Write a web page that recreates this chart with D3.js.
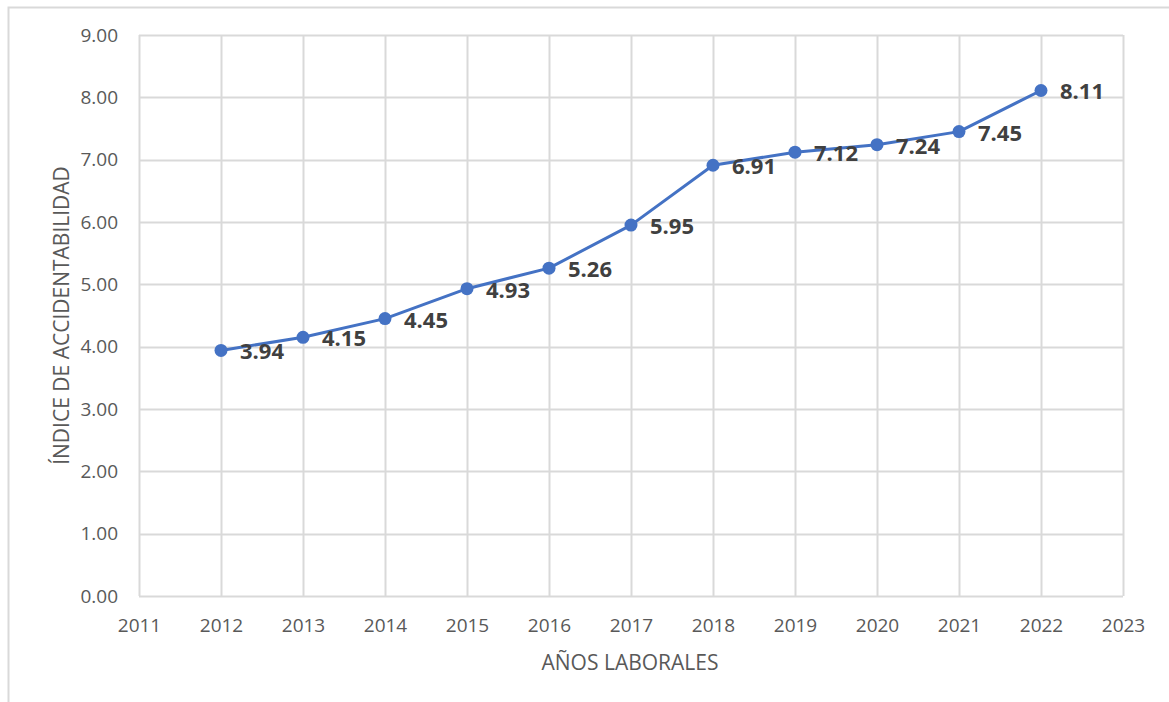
<!DOCTYPE html>
<html>
<head>
<meta charset="utf-8">
<script src="https://cdn.jsdelivr.net/npm/d3@7"></script>
<style>
  html, body { margin: 0; padding: 0; background: #fff; }
  svg { display: block; }
</style>
</head>
<body>
<svg id="chart" width="1169" height="702"></svg>
<script>
// Índice de accidentabilidad por año laboral
const years = [2012, 2013, 2014, 2015, 2016, 2017, 2018, 2019, 2020, 2021, 2022];
const indexValues = [3.94, 4.15, 4.45, 4.93, 5.26, 5.95, 6.91, 7.12, 7.24, 7.45, 8.11];
const xTicks = [2011, 2012, 2013, 2014, 2015, 2016, 2017, 2018, 2019, 2020, 2021, 2022, 2023];
const yTicks = [0, 1, 2, 3, 4, 5, 6, 7, 8, 9];
const xTitle = "AÑOS LABORALES";
const yTitle = "ÍNDICE DE ACCIDENTABILIDAD";

const svg = d3.select("#chart");
const font = "'Open Sans', 'Noto Sans', sans-serif";
const grid = "#d9d9d9";
const textGray = "#595959";
const blue = "#4472C4";

// outer chart frame
svg.append("rect")
  .attr("x", 8.5).attr("y", 7.5)
  .attr("width", 1180).attr("height", 720)
  .attr("fill", "none").attr("stroke", grid).attr("stroke-width", 2);

const plot = { left: 139, right: 1123, top: 35, bottom: 596 };

const x = d3.scaleLinear().domain([2011, 2023]).range([plot.left, plot.right]);
const y = d3.scaleLinear().domain([0, 9]).range([plot.bottom, plot.top]);

// gridlines
const g = svg.append("g");
g.selectAll(".hgrid").data(yTicks).join("line")
  .attr("x1", plot.left).attr("x2", plot.right)
  .attr("y1", d => Math.round(y(d)) + 0.5).attr("y2", d => Math.round(y(d)) + 0.5)
  .attr("stroke", grid).attr("stroke-width", 2);
g.selectAll(".vgrid").data(xTicks).join("line")
  .attr("y1", plot.top).attr("y2", plot.bottom)
  .attr("x1", d => Math.round(x(d)) + 0.5).attr("x2", d => Math.round(x(d)) + 0.5)
  .attr("stroke", grid).attr("stroke-width", 2);

// y axis tick labels
const yAxis = d3.axisLeft(y).tickValues(yTicks).tickFormat(d3.format(".2f")).tickSize(0).tickPadding(21);
const yg = svg.append("g").attr("transform", `translate(${plot.left},0)`).call(yAxis);
yg.select(".domain").remove();
yg.selectAll("text").attr("fill", textGray).style("font-family", font).style("font-size", "19px");

// x axis tick labels
const xAxis = d3.axisBottom(x).tickValues(xTicks).tickFormat(d3.format("d")).tickSize(0).tickPadding(23);
const xg = svg.append("g").attr("transform", `translate(0,${plot.bottom})`).call(xAxis);
xg.select(".domain").remove();
xg.selectAll("text").attr("fill", textGray).style("font-family", font).style("font-size", "19px");

// axis titles
svg.append("text")
  .attr("x", (plot.left + plot.right) / 2 - 1).attr("y", 670)
  .attr("text-anchor", "middle")
  .attr("fill", textGray).style("font-family", font).style("font-size", "21px")
  .text(xTitle);
svg.append("text")
  .attr("transform", `translate(69,${(plot.top + plot.bottom) / 2}) rotate(-90)`)
  .attr("text-anchor", "middle")
  .attr("fill", textGray).style("font-family", font).style("font-size", "21px")
  .text(yTitle);

// series
const data = years.map((yr, i) => ({ year: yr, value: indexValues[i] }));
svg.append("path")
  .datum(data)
  .attr("fill", "none").attr("stroke", blue).attr("stroke-width", 3)
  .attr("stroke-linejoin", "round")
  .attr("d", d3.line().x(d => x(d.year)).y(d => y(d.value)));

svg.selectAll(".pt").data(data).join("circle")
  .attr("cx", d => x(d.year)).attr("cy", d => y(d.value)).attr("r", 6.5)
  .attr("fill", blue);

// value labels
svg.selectAll(".lbl").data(data).join("text")
  .attr("x", d => x(d.year) + 19).attr("y", d => y(d.value) + 9)
  .attr("fill", "#404040").style("font-family", font)
  .style("font-size", "22px").style("font-weight", "bold")
  .text(d => d.value.toFixed(2));
</script>
</body>
</html>
